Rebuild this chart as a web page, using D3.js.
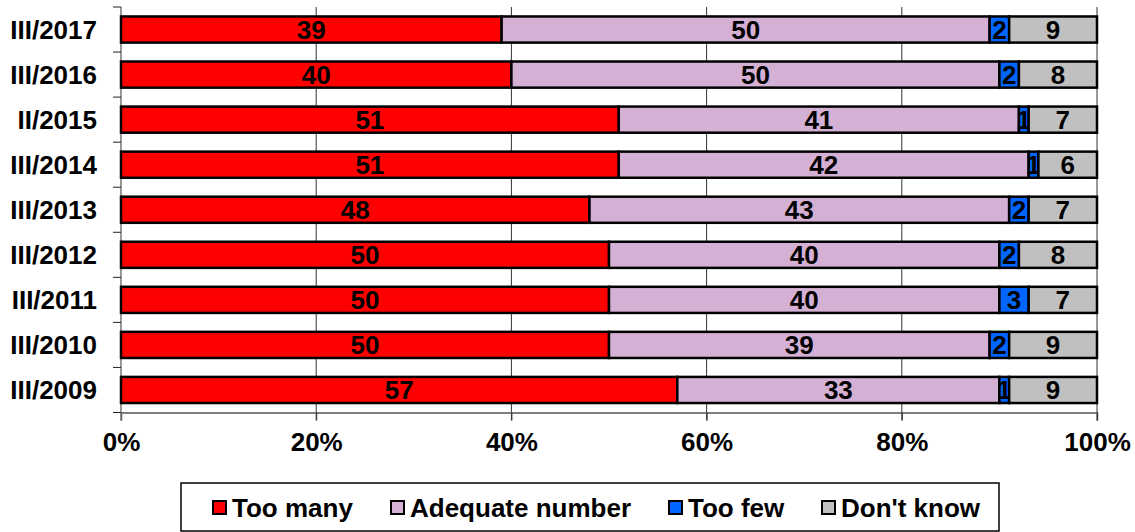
<!DOCTYPE html>
<html>
<head>
<meta charset="utf-8">
<script src="https://cdn.jsdelivr.net/npm/d3@7/dist/d3.min.js"></script>
<style>
  html, body { margin: 0; padding: 0; background: #fff; }
  svg { display: block; font-family: "Liberation Sans", Arial, sans-serif; font-weight: bold; }
</style>
</head>
<body>
<svg id="chart" width="1135" height="532"></svg>
<script>
// Survey waves, top to bottom
const waves = ["III/2017", "III/2016", "II/2015", "III/2014", "III/2013", "III/2012", "III/2011", "III/2010", "III/2009"];
// Answer shares (%) per wave
const tooMany  = [39, 40, 51, 51, 48, 50, 50, 50, 57];
const adequate = [50, 50, 41, 42, 43, 40, 40, 39, 33];
const tooFew   = [2, 2, 1, 1, 2, 2, 3, 2, 1];
const dontKnow = [9, 8, 7, 6, 7, 8, 7, 9, 9];
const seriesNames = ["Too many", "Adequate number", "Too few", "Don't know"];
const seriesColors = ["#FF0000", "#D4B0D4", "#0066FF", "#C0C0C0"];
const tickValues = [0, 20, 40, 60, 80, 100];

const seriesValues = [tooMany, adequate, tooFew, dontKnow];
const rows = waves.map((w, i) => {
  const r = { wave: w };
  seriesNames.forEach((s, k) => r[s] = seriesValues[k][i]);
  return r;
});
const stacked = d3.stack().keys(seriesNames)(rows);

const svg = d3.select("#chart");
const plotLeft = 121, plotRight = 1097, plotTop = 7, plotBottom = 412.5;

const x = d3.scaleLinear().domain([0, 100]).range([plotLeft, plotRight]);
const y = d3.scaleBand().domain(waves).range([plotTop, plotBottom])
  .paddingInner(0.42).paddingOuter(0.21);

// vertical gridlines
svg.append("g").selectAll("line").data(tickValues.filter(v => v > 0)).join("line")
  .attr("x1", d => x(d)).attr("x2", d => x(d))
  .attr("y1", plotTop).attr("y2", plotBottom + 8)
  .attr("stroke", "#333").attr("stroke-width", 1);

// bottom axis
const xAxis = svg.append("g").attr("transform", `translate(0,${plotBottom})`)
  .call(d3.axisBottom(x).tickValues(tickValues).tickFormat(d => d + "%").tickSize(8).tickPadding(12));
xAxis.select(".domain").attr("stroke", "#555").attr("stroke-width", 1.5);
xAxis.selectAll(".tick line").attr("stroke", "#333");
xAxis.selectAll("text").attr("fill", "#000")
  .style("font-size", "26px").style("font-weight", "bold")
  .style("font-family", '"Liberation Sans", Arial, sans-serif');

// left axis with category boundary ticks
const yAxisG = svg.append("g");
yAxisG.append("line").attr("x1", plotLeft).attr("x2", plotLeft).attr("y1", plotTop).attr("y2", plotBottom + 8)
  .attr("stroke", "#777").attr("stroke-width", 1.5);
const boundaries = waves.map(w => y(w) - (y.step() - y.bandwidth()) / 2);
boundaries.push(plotBottom);
yAxisG.selectAll("line.tk").data(boundaries).join("line").attr("class", "tk")
  .attr("x1", plotLeft - 8).attr("x2", plotLeft).attr("y1", d => d).attr("y2", d => d)
  .attr("stroke", "#222").attr("stroke-width", 1);
yAxisG.selectAll("text").data(waves).join("text")
  .attr("x", 97).attr("y", d => y(d) + y.bandwidth() / 2)
  .attr("dy", "0.36em").attr("text-anchor", "end")
  .style("font-size", "26px").text(d => d);

// stacked bars
const groups = svg.append("g").selectAll("g").data(stacked).join("g")
  .attr("fill", (d, i) => seriesColors[i]);
groups.selectAll("rect").data(d => d).join("rect")
  .attr("x", d => x(d[0])).attr("width", d => x(d[1]) - x(d[0]))
  .attr("y", d => y(d.data.wave)).attr("height", y.bandwidth())
  .attr("stroke", "#000").attr("stroke-width", 2.5);

// value labels
groups.selectAll("text").data(d => d.map(v => ({ v, key: d.key }))).join("text")
  .attr("x", d => (x(d.v[0]) + x(d.v[1])) / 2)
  .attr("y", d => y(d.v.data.wave) + y.bandwidth() / 2)
  .attr("dy", "0.36em").attr("text-anchor", "middle").attr("fill", "#000")
  .style("font-size", "26px")
  .text(d => d.v.data[d.key]);

// legend
const legend = svg.append("g");
legend.append("rect").attr("x", 181).attr("y", 483).attr("width", 818).attr("height", 48)
  .attr("fill", "#fff").attr("stroke", "#000").attr("stroke-width", 1.5);
const legendX = [213, 391, 669, 822];
const items = legend.selectAll("g").data(seriesNames).join("g")
  .attr("transform", (d, i) => `translate(${legendX[i]},0)`);
items.append("rect").attr("x", 0).attr("y", 501).attr("width", 13).attr("height", 13)
  .attr("fill", (d, i) => seriesColors[i]).attr("stroke", "#000").attr("stroke-width", 2);
items.append("text").attr("x", 19).attr("y", 517)
  .style("font-size", "26px").text(d => d);
</script>
</body>
</html>
